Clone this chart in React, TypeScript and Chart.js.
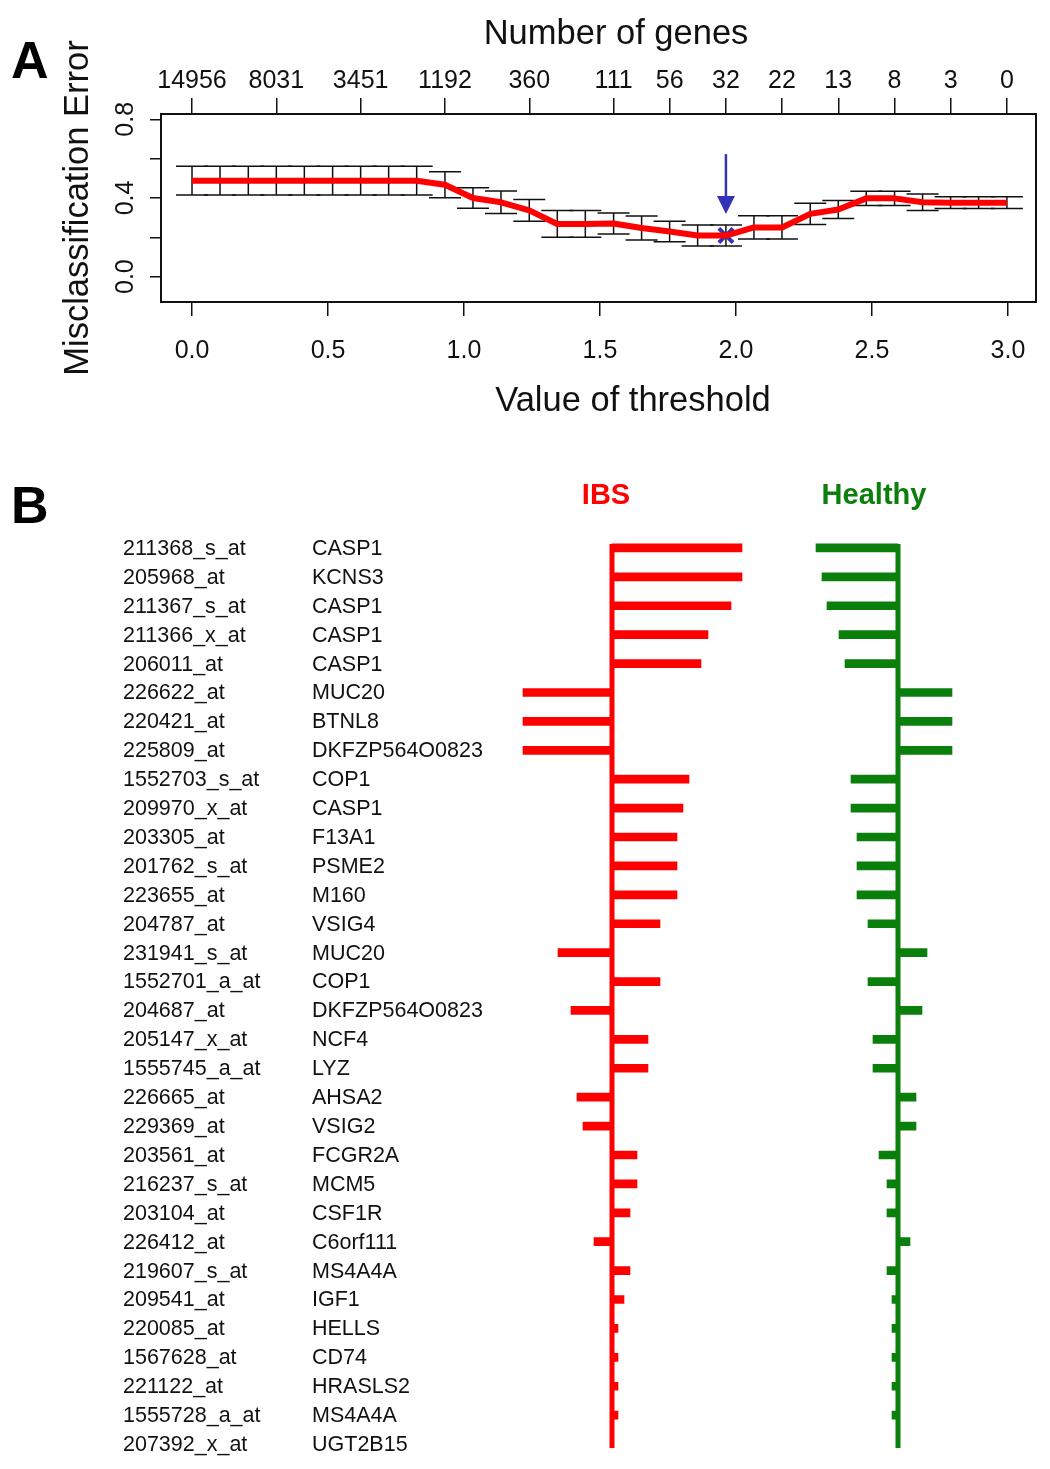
import React, { useEffect, useRef } from 'react';
import { Chart, registerables } from 'chart.js';

Chart.register(...registerables);

const FONT = '"Liberation Sans", Arial, Helvetica, sans-serif';
const RED = '#FF0000';
const GREEN = '#0B7F0B';
const BLUE = '#3333B5';

// ---------- Panel A data ----------
const thresholds = [
  0, 0.103, 0.207, 0.31, 0.413, 0.517, 0.62, 0.723, 0.826, 0.93,
  1.033, 1.136, 1.24, 1.343, 1.446, 1.55, 1.653, 1.756, 1.859, 1.963,
  2.066, 2.169, 2.273, 2.376, 2.479, 2.583, 2.686, 2.789, 2.892, 2.996,
];
const cvError = [
  0.488, 0.488, 0.488, 0.488, 0.488, 0.488, 0.488, 0.488, 0.488, 0.467,
  0.4, 0.378, 0.337, 0.268, 0.268, 0.27, 0.247, 0.229, 0.209, 0.209,
  0.25, 0.25, 0.319, 0.341, 0.398, 0.398, 0.378, 0.376, 0.376, 0.376,
];
const cvSE = [
  0.073, 0.073, 0.073, 0.073, 0.073, 0.073, 0.073, 0.073, 0.073, 0.066,
  0.052, 0.057, 0.055, 0.068, 0.068, 0.053, 0.061, 0.052, 0.053, 0.053,
  0.059, 0.059, 0.054, 0.046, 0.036, 0.036, 0.042, 0.03, 0.03, 0.03,
];
const topTickIndex = [0, 3, 6, 9, 12, 15, 17, 19, 21, 23, 25, 27, 29];
const geneCountLabels = ['14956', '8031', '3451', '1192', '360', '111', '56', '32', '22', '13', '8', '3', '0'];
const thresholdTicks = [0, 0.5, 1, 1.5, 2, 2.5, 3];
const errorTicks = [0, 0.2, 0.4, 0.6, 0.8];
const errorTickLabels = ['0.0', '', '0.4', '', '0.8'];
const selectedIndex = 19;
const arrowRange = [0.623, 0.319];

// ---------- Panel B data ----------
const probeIds = [
  '211368_s_at', '205968_at', '211367_s_at', '211366_x_at', '206011_at', '226622_at', '220421_at', '225809_at',
  '1552703_s_at', '209970_x_at', '203305_at', '201762_s_at', '223655_at', '204787_at', '231941_s_at', '1552701_a_at',
  '204687_at', '205147_x_at', '1555745_a_at', '226665_at', '229369_at', '203561_at', '216237_s_at', '203104_at',
  '226412_at', '219607_s_at', '209541_at', '220085_at', '1567628_at', '221122_at', '1555728_a_at', '207392_x_at',
];
const geneSymbols = [
  'CASP1', 'KCNS3', 'CASP1', 'CASP1', 'CASP1', 'MUC20', 'BTNL8', 'DKFZP564O0823',
  'COP1', 'CASP1', 'F13A1', 'PSME2', 'M160', 'VSIG4', 'MUC20', 'COP1',
  'DKFZP564O0823', 'NCF4', 'LYZ', 'AHSA2', 'VSIG2', 'FCGR2A', 'MCM5', 'CSF1R',
  'C6orf111', 'MS4A4A', 'IGF1', 'HELLS', 'CD74', 'HRASLS2', 'MS4A4A', 'UGT2B15',
];
const ibsCentroid = [
  0.13, 0.13, 0.119, 0.096, 0.089, -0.089, -0.089, -0.089,
  0.077, 0.071, 0.065, 0.065, 0.065, 0.048, -0.054, 0.048,
  -0.041, 0.036, 0.036, -0.035, -0.029, 0.025, 0.025, 0.018,
  -0.018, 0.018, 0.012, 0.006, 0.006, 0.006, 0.006, 0.0,
];
const healthyCentroid = [
  -0.082, -0.076, -0.071, -0.059, -0.053, 0.054, 0.054, 0.054,
  -0.047, -0.047, -0.041, -0.041, -0.041, -0.03, 0.029, -0.03,
  0.024, -0.025, -0.025, 0.018, 0.018, -0.019, -0.011, -0.011,
  0.012, -0.011, -0.006, -0.006, -0.006, -0.006, -0.006, 0.0,
];

const PANEL_A_H = 440;
const PANEL_B_TOP = 440;
const PANEL_B_H = 1469 - PANEL_B_TOP;

const panelAPlugin = {
  id: 'panelA',
  beforeDatasetsDraw(chart: any) {
    const { ctx } = chart;
    const xs = chart.scales.x;
    const ys = chart.scales.y;
    ctx.save();
    ctx.strokeStyle = '#111';
    ctx.lineWidth = 1.5;
    thresholds.forEach((t, i) => {
      const x = xs.getPixelForValue(t);
      const yt = ys.getPixelForValue(cvError[i] + cvSE[i]);
      const yb = ys.getPixelForValue(cvError[i] - cvSE[i]);
      ctx.beginPath();
      ctx.moveTo(x, yt);
      ctx.lineTo(x, yb);
      ctx.moveTo(x - 16, yt);
      ctx.lineTo(x + 16, yt);
      ctx.moveTo(x - 16, yb);
      ctx.lineTo(x + 16, yb);
      ctx.stroke();
    });
    ctx.restore();
  },
  afterDraw(chart: any) {
    const { ctx, chartArea } = chart;
    const xs = chart.scales.x;
    const ys = chart.scales.y;
    ctx.save();
    // frame
    ctx.strokeStyle = '#111';
    ctx.lineWidth = 2;
    ctx.strokeRect(chartArea.left, chartArea.top, chartArea.right - chartArea.left, chartArea.bottom - chartArea.top);
    // rotated y tick labels
    ctx.fillStyle = '#111';
    ctx.font = `25px ${FONT}`;
    ctx.textAlign = 'center';
    ctx.textBaseline = 'middle';
    errorTicks.forEach((v, i) => {
      if (!errorTickLabels[i]) return;
      ctx.save();
      ctx.translate(126, ys.getPixelForValue(v));
      ctx.rotate(-Math.PI / 2);
      ctx.fillText(errorTickLabels[i], 0, 0);
      ctx.restore();
    });
    // axis titles (top / bottom)
    ctx.font = `34.5px ${FONT}`;
    ctx.fillText('Number of genes', 616, 34);
    ctx.fillText('Value of threshold', 633, 401);
    // arrow to selected threshold
    const ax = xs.getPixelForValue(thresholds[selectedIndex]);
    const y1 = ys.getPixelForValue(arrowRange[0]);
    const y2 = ys.getPixelForValue(arrowRange[1]);
    ctx.strokeStyle = BLUE;
    ctx.fillStyle = BLUE;
    ctx.lineWidth = 2.5;
    ctx.beginPath();
    ctx.moveTo(ax, y1);
    ctx.lineTo(ax, y2 - 16);
    ctx.stroke();
    ctx.beginPath();
    ctx.moveTo(ax - 9, y2 - 18);
    ctx.lineTo(ax + 9, y2 - 18);
    ctx.lineTo(ax, y2);
    ctx.closePath();
    ctx.fill();
    // panel letter
    ctx.fillStyle = '#000';
    ctx.font = `bold 52px ${FONT}`;
    ctx.textAlign = 'left';
    ctx.textBaseline = 'alphabetic';
    ctx.fillText('A', 11, 78);
    ctx.restore();
  },
};

const panelBPlugin = {
  id: 'panelB',
  afterDatasetsDraw(chart: any) {
    const { ctx } = chart;
    const ys = chart.scales.y;
    const xi = chart.scales.xIbs;
    const xh = chart.scales.xHealthy;
    const yTop = ys.getPixelForValue(0) - 4;
    const yBot = ys.getPixelForValue(probeIds.length - 1) + 4;
    ctx.save();
    ctx.lineWidth = 5;
    ctx.strokeStyle = RED;
    ctx.beginPath();
    ctx.moveTo(xi.getPixelForValue(0), yTop);
    ctx.lineTo(xi.getPixelForValue(0), yBot);
    ctx.stroke();
    ctx.strokeStyle = GREEN;
    ctx.beginPath();
    ctx.moveTo(xh.getPixelForValue(0), yTop);
    ctx.lineTo(xh.getPixelForValue(0), yBot);
    ctx.stroke();
    ctx.restore();
  },
  afterDraw(chart: any) {
    const { ctx } = chart;
    const ys = chart.scales.y;
    ctx.save();
    ctx.fillStyle = '#111';
    ctx.font = `21.5px ${FONT}`;
    ctx.textAlign = 'left';
    ctx.textBaseline = 'middle';
    probeIds.forEach((p, i) => {
      const y = ys.getPixelForValue(i) + 1;
      ctx.fillText(p, 123, y);
      ctx.fillText(geneSymbols[i], 312, y);
    });
    ctx.font = `bold 29px ${FONT}`;
    ctx.textAlign = 'center';
    ctx.fillStyle = RED;
    ctx.fillText('IBS', 606, 56);
    ctx.fillStyle = GREEN;
    ctx.fillText('Healthy', 874, 56);
    ctx.fillStyle = '#000';
    ctx.font = `bold 52px ${FONT}`;
    ctx.textAlign = 'left';
    ctx.textBaseline = 'alphabetic';
    ctx.fillText('B', 11, 83);
    ctx.restore();
  },
};

export default function App() {
  const refA = useRef<HTMLCanvasElement | null>(null);
  const refB = useRef<HTMLCanvasElement | null>(null);

  useEffect(() => {
    const tickFont = { family: FONT, size: 25 };
    const titleFont = { family: FONT, size: 34.5 };
    const gridBase = { drawOnChartArea: false, color: '#111', lineWidth: 1.5 };

    const chartA = new Chart(refA.current as HTMLCanvasElement, {
      type: 'line',
      data: {
        datasets: [
          {
            data: thresholds.map((t, i) => ({ x: t, y: cvError[i] })),
            xAxisID: 'x',
            yAxisID: 'y',
            borderColor: RED,
            borderWidth: 6,
            borderJoinStyle: 'round',
            pointRadius: 0,
            tension: 0,
          },
          {
            data: [{ x: thresholds[selectedIndex], y: cvError[selectedIndex] }],
            xAxisID: 'x',
            yAxisID: 'y',
            showLine: false,
            pointStyle: 'crossRot',
            pointRadius: 10,
            pointBorderWidth: 4,
            pointBorderColor: BLUE,
            borderColor: BLUE,
          },
        ],
      } as any,
      options: {
        animation: false,
        responsive: false,
        events: [],
        layout: { padding: { left: 0, right: 13, top: 0, bottom: 0 } },
        plugins: { legend: { display: false }, tooltip: { enabled: false } },
        scales: {
          x: {
            type: 'linear',
            position: 'bottom',
            min: -0.114,
            max: 3.103,
            afterBuildTicks: (s: any) => { s.ticks = thresholdTicks.map((v) => ({ value: v })); },
            afterFit: (s: any) => { s.height = PANEL_A_H - 302; },
            ticks: {
              autoSkip: false, maxRotation: 0, minRotation: 0, padding: 20,
              color: '#111', font: tickFont,
              callback: (v: any) => Number(v).toFixed(1),
            },
            grid: { ...gridBase, tickLength: 14 },
            border: { display: false },
            title: { display: false },
          },
          xTop: {
            type: 'linear',
            position: 'top',
            min: -0.114,
            max: 3.103,
            afterBuildTicks: (s: any) => { s.ticks = topTickIndex.map((i) => ({ value: thresholds[i] })); },
            afterFit: (s: any) => { s.height = 114; },
            ticks: {
              autoSkip: false, maxRotation: 0, minRotation: 0, padding: 2,
              color: '#111', font: tickFont,
              callback: (_v: any, idx: number) => geneCountLabels[idx],
            },
            grid: { ...gridBase, tickLength: 16 },
            border: { display: false },
            title: { display: false },
          },
          y: {
            type: 'linear',
            position: 'left',
            min: -0.129,
            max: 0.827,
            afterBuildTicks: (s: any) => { s.ticks = errorTicks.map((v) => ({ value: v })); },
            afterFit: (s: any) => { s.width = 161; },
            ticks: { autoSkip: false, color: '#111', font: tickFont, callback: () => '' },
            grid: { ...gridBase, tickLength: 11 },
            border: { display: false },
            title: { display: true, text: 'Misclassification Error', color: '#111', font: titleFont, padding: { top: 57.6, bottom: 0 } },
          },
        },
      } as any,
      plugins: [panelAPlugin],
    });

    const chartB = new Chart(refB.current as HTMLCanvasElement, {
      type: 'bar',
      data: {
        labels: probeIds,
        datasets: [
          {
            label: 'IBS',
            data: ibsCentroid,
            xAxisID: 'xIbs',
            yAxisID: 'y',
            backgroundColor: RED,
            borderWidth: 0,
            barThickness: 8,
            grouped: false,
          },
          {
            label: 'Healthy',
            data: healthyCentroid,
            xAxisID: 'xHealthy',
            yAxisID: 'y',
            backgroundColor: GREEN,
            borderWidth: 0,
            barThickness: 8,
            grouped: false,
          },
        ],
      } as any,
      options: {
        indexAxis: 'y',
        animation: false,
        responsive: false,
        events: [],
        layout: { padding: { left: 500, right: 50, top: 93.5, bottom: 10.5 } },
        plugins: { legend: { display: false }, tooltip: { enabled: false } },
        scales: {
          y: { type: 'category', display: false, offset: true },
          xIbs: { type: 'linear', axis: 'x', display: false, min: -0.112, max: 0.388 },
          xHealthy: { type: 'linear', axis: 'x', display: false, min: -0.398, max: 0.102 },
        },
      } as any,
      plugins: [panelBPlugin],
    });

    return () => {
      chartA.destroy();
      chartB.destroy();
    };
  }, []);

  return (
    <div style={{ position: 'absolute', left: 0, top: 0, width: 1050, height: 1469, background: '#fff' }}>
      <canvas
        ref={refA}
        width={1050}
        height={PANEL_A_H}
        style={{ position: 'absolute', left: 0, top: 0, width: 1050, height: PANEL_A_H }}
      />
      <canvas
        ref={refB}
        width={1050}
        height={PANEL_B_H}
        style={{ position: 'absolute', left: 0, top: PANEL_B_TOP, width: 1050, height: PANEL_B_H }}
      />
    </div>
  );
}
